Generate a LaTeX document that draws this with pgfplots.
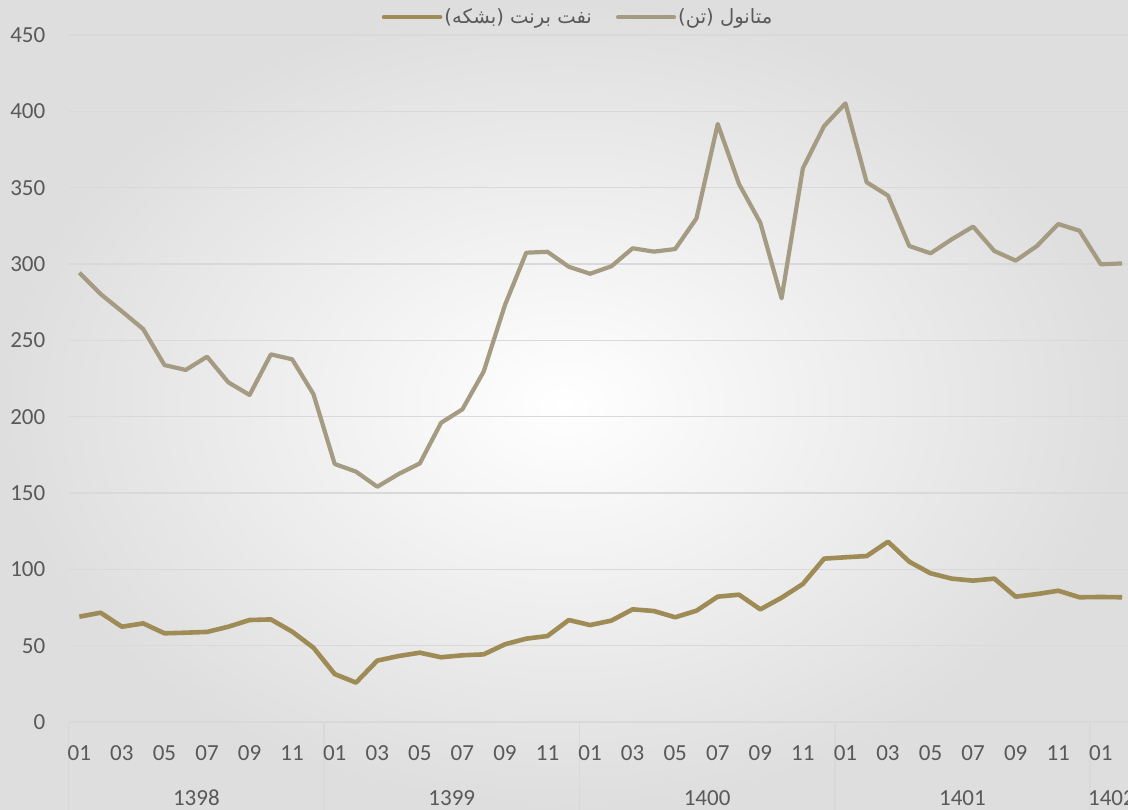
\documentclass[border=0pt]{standalone}
\usepackage{fontspec}
\setmainfont{Carlito}
\newfontfamily\arabicfont[Script=Arabic]{DejaVu Sans}
\TeXXeTstate=1
\usepackage{pgfplots}
\pgfplotsset{compat=1.18}
\definecolor{meth}{HTML}{A49B82}
\definecolor{brent}{HTML}{9E8B56}
\definecolor{gridc}{HTML}{D9D9D9}
\definecolor{tickc}{HTML}{595959}
\pgfplotstableread{
i meth brent
0 294.3 69.0
1 280.3 71.6
2 269.0 62.4
3 257.4 64.6
4 233.8 58.1
5 230.6 58.5
6 239.3 59.0
7 222.5 62.4
8 214.2 66.8
9 240.8 67.2
10 237.6 59.2
11 214.8 48.7
12 169.0 31.4
13 164.0 25.8
14 154.1 40.2
15 162.4 43.2
16 169.4 45.4
17 196.0 42.4
18 204.8 43.7
19 229.5 44.3
20 273.1 50.9
21 307.4 54.6
22 308.0 56.3
23 298.2 66.8
24 293.6 63.5
25 298.5 66.4
26 310.3 73.8
27 308.1 72.7
28 309.8 68.6
29 329.9 72.9
30 391.7 82.1
31 352.4 83.4
32 327.1 73.8
33 277.5 81.4
34 362.7 90.4
35 390.4 107.0
36 405.2 107.9
37 353.5 108.7
38 344.8 118.1
39 311.8 105.0
40 307.0 97.4
41 316.2 93.9
42 324.5 92.6
43 308.5 93.9
44 302.2 82.1
45 311.8 83.8
46 326.2 86.0
47 321.8 81.7
48 299.8 81.9
49 300.4 81.7
}\datatable
\begin{document}
\begin{tikzpicture}
\fill[inner color=white, outer color=black!13] (-34.35pt,-43.5pt) rectangle (529.65pt,361pt);
\foreach \sx in {0,127.68,255.36,383.04,510.72}{
  \draw[gridc, line width=0.75pt] (\sx pt,0pt) -- (\sx pt,-44pt);
}
\begin{axis}[
  at={(0,0)}, anchor=south west,
  scale only axis, width=532pt, height=343.5pt,
  xmin=-0.5, xmax=49.5, ymin=0, ymax=450,
  ytick={0,50,...,450},
  xtick={0,2,...,48},
  xticklabels={01,03,05,07,09,11,01,03,05,07,09,11,01,03,05,07,09,11,01,03,05,07,09,11,01},
  axis line style={draw=none},
  ymajorgrids, grid style={gridc, line width=0.75pt},
  major tick length=0pt,
  tick label style={font=\fontsize{11.5}{13}\selectfont, text=tickc},
  /pgf/number format/assume math mode=true,
  yticklabel style={anchor=east, inner sep=0pt, xshift=-11.5pt},
  xticklabel style={anchor=base, inner sep=0pt, yshift=-19.2pt},
  clip=false,
  legend columns=2,
  legend style={draw=none, fill=none, at={(0.4787,1.026)}, anchor=center,
    font=\fontsize{9.8}{12}\selectfont, text=tickc,
    nodes={inner sep=1pt},
    /tikz/every even column/.append style={column sep=11pt}},
  legend image code/.code={\draw[#1, line cap=round] (0pt,0pt) -- (28pt,0pt);},
]
\addplot[brent, line width=2.3pt, line join=round] table[x=i, y=brent] {\datatable};
\addlegendentry{\arabicfont\beginR نفت برنت (بشکه)\endR}
\addplot[meth, line width=2.1pt, line join=round] table[x=i, y=meth] {\datatable};
\addlegendentry{\arabicfont\beginR متانول (تن)\endR}
\node[anchor=base, font=\fontsize{11.5}{13}\selectfont, text=tickc, yshift=-41.5pt] at (axis cs:5.5,0) {1398};
\node[anchor=base, font=\fontsize{11.5}{13}\selectfont, text=tickc, yshift=-41.5pt] at (axis cs:17.5,0) {1399};
\node[anchor=base, font=\fontsize{11.5}{13}\selectfont, text=tickc, yshift=-41.5pt] at (axis cs:29.5,0) {1400};
\node[anchor=base, font=\fontsize{11.5}{13}\selectfont, text=tickc, yshift=-41.5pt] at (axis cs:41.5,0) {1401};
\node[anchor=base, font=\fontsize{11.5}{13}\selectfont, text=tickc, yshift=-41.5pt] at (axis cs:48.5,0) {1402};
\end{axis}
\pgfresetboundingbox
\useasboundingbox (-34.35pt,-43.5pt) rectangle (529.65pt,361pt);
\end{tikzpicture}
\end{document}
